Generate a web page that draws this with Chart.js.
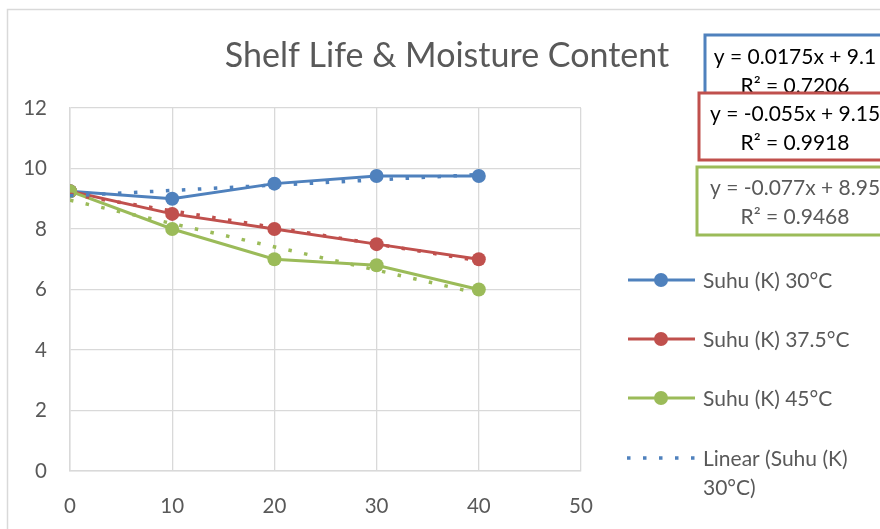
<!DOCTYPE html>
<html>
<head>
<meta charset="utf-8">
<script src="https://cdn.jsdelivr.net/npm/chart.js@4.4.1/dist/chart.umd.min.js"></script>
<style>
  html, body { margin: 0; padding: 0; background: #ffffff; }
  #wrap { width: 880px; height: 529px; position: relative; }
</style>
</head>
<body>
<div id="wrap"><canvas id="c" width="880" height="529"></canvas></div>
<script>
// Storage time (days) and moisture content for each storage temperature
const days = [0, 10, 20, 30, 40];
const moisture30 = [9.25, 9.0, 9.5, 9.75, 9.75];
const moisture375 = [9.25, 8.5, 8.0, 7.5, 7.0];
const moisture45 = [9.25, 8.0, 7.0, 6.8, 6.0];

const seriesNames = ['Suhu (K) 30°C', 'Suhu (K) 37.5°C', 'Suhu (K) 45°C'];
const seriesColors = ['#4F81BD', '#C0504D', '#9BBB59'];

// Linear trendline coefficients and fit quality
const trendSlopes = [0.0175, -0.055, -0.077];
const trendIntercepts = [9.1, 9.15, 8.95];
const trendR2 = ['0.7206', '0.9918', '0.9468'];
const trendLabels = ['y = 0.0175x + 9.1', 'y = -0.055x + 9.15', 'y = -0.077x + 8.95'];

const xTicks = [0, 10, 20, 30, 40, 50];
const yTicks = [0, 2, 4, 6, 8, 10, 12];

const chartTitle = 'Shelf Life & Moisture Content';
const FONT = 'Lato, "Open Sans", sans-serif';
const TEXT = '#595959';
const GRID = '#d9d9d9';

const seriesValues = [moisture30, moisture375, moisture45];

const datasets = [];
seriesValues.forEach((vals, i) => {
  datasets.push({
    label: seriesNames[i],
    data: days.map((d, k) => ({ x: d, y: vals[k] })),
    showLine: true,
    borderColor: seriesColors[i],
    backgroundColor: seriesColors[i],
    borderWidth: 3,
    pointRadius: 7,
    pointHoverRadius: 7,
    pointBorderWidth: 0,
    order: 3 - i
  });
});
seriesValues.forEach((vals, i) => {
  const x0 = days[0], x1 = days[days.length - 1];
  datasets.push({
    label: 'Linear (' + seriesNames[i] + ')',
    data: [
      { x: x0, y: trendIntercepts[i] + trendSlopes[i] * x0 },
      { x: x1, y: trendIntercepts[i] + trendSlopes[i] * x1 }
    ],
    showLine: true,
    borderColor: seriesColors[i],
    borderWidth: 3.5,
    borderDash: [3.5, 12.5],
    borderCapStyle: 'butt',
    pointRadius: 0,
    order: 0
  });
});

// Chart frame, title, legend and trendline equation boxes
const decorations = {
  id: 'decorations',
  beforeDraw(chart) {
    const ctx = chart.ctx;
    ctx.save();
    ctx.fillStyle = '#ffffff';
    ctx.fillRect(0, 0, chart.width, chart.height);
    ctx.strokeStyle = GRID;
    ctx.lineWidth = 1.5;
    ctx.strokeRect(7.5, 9.5, 1000, 1000);
    ctx.restore();
  },
  afterDraw(chart) {
    const ctx = chart.ctx;
    ctx.save();
    // title
    ctx.fillStyle = TEXT;
    ctx.font = '34px ' + FONT;
    ctx.textAlign = 'center';
    ctx.textBaseline = 'middle';
    ctx.fillText(chartTitle, 447, 56);

    // legend
    ctx.font = '21px ' + FONT;
    ctx.textAlign = 'left';
    const ly = [280, 339, 398];
    seriesNames.forEach((name, i) => {
      ctx.strokeStyle = seriesColors[i];
      ctx.lineWidth = 3;
      ctx.setLineDash([]);
      ctx.beginPath();
      ctx.moveTo(628, ly[i]);
      ctx.lineTo(695, ly[i]);
      ctx.stroke();
      ctx.fillStyle = seriesColors[i];
      ctx.beginPath();
      ctx.arc(661, ly[i], 7, 0, Math.PI * 2);
      ctx.fill();
      ctx.fillStyle = TEXT;
      ctx.fillText(name, 703, ly[i] + 1);
    });
    ctx.strokeStyle = seriesColors[0];
    ctx.lineWidth = 3.5;
    ctx.setLineDash([3.5, 12.5]);
    ctx.beginPath();
    ctx.moveTo(627, 458);
    ctx.lineTo(697, 458);
    ctx.stroke();
    ctx.setLineDash([]);
    ctx.fillStyle = TEXT;
    ctx.fillText('Linear (Suhu (K)', 703, 459);
    ctx.fillText('30°C)', 703, 488);

    // equation boxes
    const boxes = [
      { x: 705, y: 35, h: 70, tc: '#000000', l1: 57, l2: 86 },
      { x: 699, y: 93, h: 67, tc: '#000000', l1: 114, l2: 143 },
      { x: 697, y: 167, h: 68, tc: TEXT, l1: 188, l2: 217 }
    ];
    ctx.textAlign = 'center';
    boxes.forEach((b, i) => {
      ctx.fillStyle = '#ffffff';
      ctx.fillRect(b.x, b.y, 300, b.h);
      ctx.strokeStyle = seriesColors[i];
      ctx.lineWidth = 3;
      ctx.strokeRect(b.x, b.y, 300, b.h);
      ctx.fillStyle = b.tc;
      ctx.font = '21px ' + FONT;
      ctx.fillText(trendLabels[i], 795, b.l1);
      ctx.fillText('R² = ' + trendR2[i], 795, b.l2);
    });
    ctx.restore();
  }
};

new Chart(document.getElementById('c'), {
  type: 'scatter',
  data: { datasets },
  options: {
    responsive: false,
    animation: false,
    events: [],
    layout: { padding: { top: 108, right: 299, left: 0, bottom: 0 } },
    plugins: {
      legend: { display: false },
      title: { display: false },
      tooltip: { enabled: false }
    },
    scales: {
      x: {
        type: 'linear',
        min: 0, max: 50,
        afterFit(scale) { scale.height = 58; },
        afterBuildTicks(scale) { scale.ticks = xTicks.map(v => ({ value: v })); },
        grid: { color: GRID, lineWidth: 1.3, drawTicks: false },
        border: { color: GRID, width: 1.5 },
        ticks: { color: TEXT, font: { family: FONT, size: 20.5 }, padding: 23 }
      },
      y: {
        type: 'linear',
        min: 0, max: 12,
        afterFit(scale) { scale.width = 70; },
        afterBuildTicks(scale) { scale.ticks = yTicks.map(v => ({ value: v })); },
        grid: { color: GRID, lineWidth: 1.3, drawTicks: false },
        border: { color: GRID, width: 1.5 },
        ticks: { color: TEXT, font: { family: FONT, size: 20.5 }, padding: 23 }
      }
    }
  },
  plugins: [decorations]
});
</script>
</body>
</html>
